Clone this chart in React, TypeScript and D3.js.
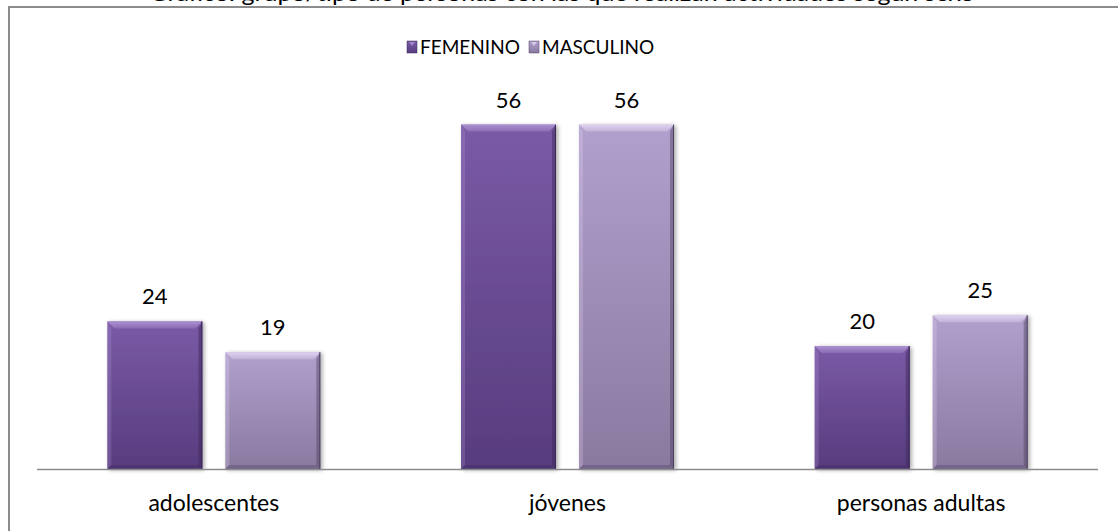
import React from "react";
import * as d3 from "d3";

const categories = ["adolescentes", "jóvenes", "personas adultas"];
const seriesNames = ["FEMENINO", "MASCULINO"];
const femenino = [24, 56, 20];
const masculino = [19, 56, 25];
const yTicks = [0, 60];
const titleText = "Gráfico: grupo/tipo de personas con las que realizan actividades según sexo";

const W = 1118;
const H = 531;
const FONT = "Lato, 'Open Sans', sans-serif";

const colors = {
  FEMENINO: { top: "#7a5aa6", bottom: "#573c7e", light: "#b59ad8", dark: "#3b2858" },
  MASCULINO: { top: "#b1a0cd", bottom: "#8a799f", light: "#e8dcf6", dark: "#4c4060" },
};

export default function App() {
  const x0 = d3.scaleBand<string>().domain(categories).range([37, 1098]).padding(0);
  const groupW = 213;
  const x1 = d3
    .scaleBand<string>()
    .domain(seriesNames)
    .range([0, groupW])
    .paddingInner(23 / 118)
    .paddingOuter(0);
  const y = d3.scaleLinear().domain([yTicks[0], yTicks[1]]).range([469, 100]);

  const data = categories.map((c, i) => ({
    cat: c,
    values: [
      { s: "FEMENINO", v: femenino[i] },
      { s: "MASCULINO", v: masculino[i] },
    ],
  }));

  const bw = x1.bandwidth();
  const b = 7;
  const bs = 4;

  return (
    <svg
      width={W}
      height={H}
      style={{ position: "absolute", left: 0, top: 0, background: "#fff" }}
      fontFamily={FONT}
    >
      <defs>
        {seriesNames.map((s) => (
          <linearGradient key={s} id={`g-${s}`} x1="0" y1="0" x2="0" y2="1">
            <stop offset="0%" stopColor={(colors as any)[s].top} />
            <stop offset="100%" stopColor={(colors as any)[s].bottom} />
          </linearGradient>
        ))}
        {seriesNames.map((s) => (
          <linearGradient key={s + "t"} id={`gt-${s}`} x1="0" y1="0" x2="0" y2="1">
            <stop offset="0%" stopColor={(colors as any)[s].light} stopOpacity={1} />
            <stop offset="100%" stopColor={(colors as any)[s].light} stopOpacity={0.35} />
          </linearGradient>
        ))}
        <filter id="shadow" x="-10%" y="-10%" width="130%" height="120%">
          <feGaussianBlur in="SourceAlpha" stdDeviation="2" />
          <feOffset dx="2" dy="1" result="ob" />
          <feComponentTransfer>
            <feFuncA type="linear" slope="0.35" />
          </feComponentTransfer>
          <feMerge>
            <feMergeNode />
            <feMergeNode in="SourceGraphic" />
          </feMerge>
        </filter>
      </defs>

      {/* clipped title */}
      <text
        x={562}
        y={1}
        textAnchor="middle"
        fontSize={22}
        fill="#000"
        textLength={825}
        lengthAdjust="spacingAndGlyphs"
      >
        {titleText}
      </text>

      {/* frame */}
      <path d={`M9,${H + 5} L9,7 L${W + 5},7`} fill="none" stroke="#8c8c8c" strokeWidth={2} />

      {/* legend */}
      {seriesNames.map((s, i) => {
        const lx = i === 0 ? 407 : 529;
        return (
          <g key={s}>
            <rect x={lx} y={41} width={10} height={12} fill={`url(#g-${s})`} stroke={(colors as any)[s].dark} strokeWidth={0.5} />
            <polygon
              points={`${lx + 2},${42} ${lx + 8},${42} ${lx + 5},${46}`}
              fill={(colors as any)[s].light}
              opacity={0.7}
            />
            <text x={lx + 13} y={54} fontSize={19} fill="#000">
              {s}
            </text>
          </g>
        );
      })}

      {/* bars */}
      {data.map((d) => (
        <g key={d.cat} transform={`translate(${(x0(d.cat) as number) + (x0.bandwidth() - groupW) / 2},0)`}>
          {d.values.map((v) => {
            const x = x1(v.s) as number;
            const yt = y(v.v);
            const h = y(0) - yt;
            const c = (colors as any)[v.s];
            return (
              <g key={v.s}>
                <rect x={x} y={yt} width={bw} height={h} fill={`url(#g-${v.s})`} filter="url(#shadow)" />
                <polygon
                  points={`${x},${yt} ${x + bw},${yt} ${x + bw - b},${yt + b} ${x + b},${yt + b}`}
                  fill={`url(#gt-${v.s})`}
                  opacity={0.85}
                />
                <polygon
                  points={`${x},${yt} ${x + bs},${yt + b} ${x + bs},${yt + h - bs} ${x},${yt + h}`}
                  fill={c.light}
                  opacity={0.25}
                />
                <polygon
                  points={`${x + bw},${yt} ${x + bw - bs},${yt + b} ${x + bw - bs},${yt + h - bs} ${x + bw},${yt + h}`}
                  fill={c.dark}
                  opacity={0.45}
                />
                <polygon
                  points={`${x},${yt + h} ${x + bs},${yt + h - bs} ${x + bw - bs},${yt + h - bs} ${x + bw},${yt + h}`}
                  fill={c.dark}
                  opacity={0.35}
                />
                <line x1={x + bw - 0.5} x2={x + bw - 0.5} y1={yt} y2={yt + h} stroke={c.dark} strokeWidth={1} />
                <text x={x + bw / 2} y={yt - 17} textAnchor="middle" fontSize={22} fill="#000">
                  {v.v}
                </text>
              </g>
            );
          })}
        </g>
      ))}

      {/* axis */}
      <line x1={37} x2={1098} y1={469.5} y2={469.5} stroke="#8c8c8c" strokeWidth={1.5} />
      {categories.map((c) => (
        <text
          key={c}
          x={(x0(c) as number) + x0.bandwidth() / 2}
          y={511}
          textAnchor="middle"
          fontSize={23}
          fill="#000"
        >
          {c}
        </text>
      ))}
    </svg>
  );
}
